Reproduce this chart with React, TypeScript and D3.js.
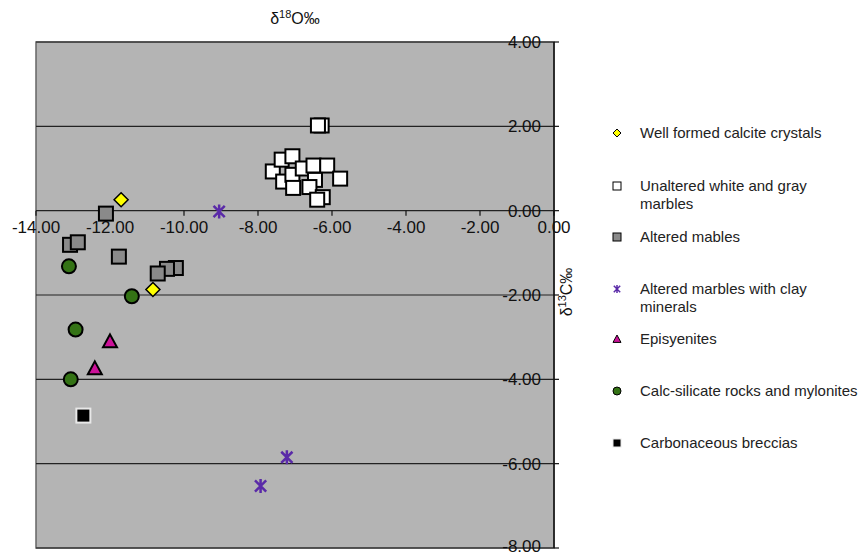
import React from "react";
import * as d3 from "d3";

const xTicks = [-14, -12, -10, -8, -6, -4, -2, 0];
const yTicks = [4, 2, 0, -2, -4, -6, -8];

// [d18O, d13C]
const calcite = [[-11.7, 0.26], [-10.84, -1.87]];
const unaltered = [
  [-6.28, 2.02], [-6.38, 2.02], [-7.6, 0.93], [-7.36, 1.21], [-7.07, 1.29],
  [-7.32, 0.69], [-7.07, 0.85], [-6.79, 1.0], [-6.5, 1.07], [-6.13, 1.07],
  [-5.78, 0.76], [-6.46, 0.73], [-7.05, 0.54], [-6.61, 0.56], [-6.25, 0.32],
  [-6.4, 0.26],
];
const altered = [
  [-12.11, -0.07], [-13.08, -0.81], [-12.87, -0.75], [-11.76, -1.09],
  [-10.22, -1.36], [-10.46, -1.38], [-10.71, -1.49],
];
const clay = [[-9.05, -0.02], [-7.22, -5.85], [-7.93, -6.53]];
const episyenites = [[-12.0, -3.1], [-12.41, -3.74]];
const calcSilicate = [[-13.11, -1.32], [-11.41, -2.03], [-12.93, -2.82], [-13.06, -4.0]];
const breccias = [[-12.72, -4.86]];

const legendLabels = [
  ["Well formed calcite crystals"],
  ["Unaltered white and gray", "marbles"],
  ["Altered mables"],
  ["Altered marbles with clay", "minerals"],
  ["Episyenites"],
  ["Calc-silicate rocks and mylonites"],
  ["Carbonaceous breccias"],
];
const legendY = [133, 186, 237, 289, 339, 391, 443];

const font = "Liberation Sans, Arial, sans-serif";
const fmt = (v: number) => d3.format(".2f")(v).replace("−", "-");

function Marker({ kind, x, y, s }: { kind: string; x: number; y: number; s: number }) {
  const h = s / 2;
  if (kind === "diamond")
    return <path d={`M${x},${y - h}L${x + h},${y}L${x},${y + h}L${x - h},${y}Z`} fill="#ffff00" stroke="#000" strokeWidth={s > 10 ? 1.5 : 1} />;
  if (kind === "white")
    return <rect x={x - h} y={y - h} width={s} height={s} fill="#fff" stroke="#000" strokeWidth={s > 10 ? 2 : 1} />;
  if (kind === "gray")
    return <rect x={x - h} y={y - h} width={s} height={s} fill="#8a8a8a" stroke="#000" strokeWidth={s > 10 ? 2 : 1} />;
  if (kind === "star") {
    const d = h * 0.8;
    return <path d={`M${x},${y - h}V${y + h}M${x - d},${y - d}L${x + d},${y + d}M${x - d},${y + d}L${x + d},${y - d}`} stroke="#5a2aa8" strokeWidth={s > 10 ? 2.5 : 1.5} fill="none" />;
  }
  if (kind === "tri")
    return <path d={`M${x},${y - h}L${x + h},${y + h * 0.85}L${x - h},${y + h * 0.85}Z`} fill="#cc1199" stroke="#000" strokeWidth={s > 10 ? 2 : 1} />;
  if (kind === "circle")
    return <circle cx={x} cy={y} r={h} fill="#347315" stroke="#000" strokeWidth={s > 10 ? 2 : 1} />;
  return <rect x={x - h} y={y - h} width={s} height={s} fill="#000" stroke="#e8e8e8" strokeWidth={s > 10 ? 2 : 1} />;
}

const series = [
  { kind: "diamond", data: calcite },
  { kind: "white", data: unaltered },
  { kind: "gray", data: altered },
  { kind: "star", data: clay },
  { kind: "tri", data: episyenites },
  { kind: "circle", data: calcSilicate },
  { kind: "black", data: breccias },
];

export default function App() {
  const x = d3.scaleLinear().domain([-14, 0]).range([36, 554]);
  const y = d3.scaleLinear().domain([-8, 4]).range([548, 42]);
  const [x0, x1] = x.range();
  const [y1, y0] = y.range();

  return (
    <svg width={860} height={555} style={{ position: "absolute", left: 0, top: 0, background: "#fff" }} fontFamily={font}>
      <rect x={x0} y={y0} width={x1 - x0} height={y1 - y0} fill="#b4b4b4" stroke="#666" strokeWidth={1.5} />
      {yTicks.map(t => (
        <line key={"g" + t} x1={x0} x2={x1} y1={y(t)} y2={y(t)} stroke="#222" strokeWidth={1.2} />
      ))}
      {/* y axis at x = 0 */}
      <line x1={x(0)} x2={x(0)} y1={y0} y2={y1} stroke="#111" strokeWidth={1.5} />
      {yTicks.map(t => (
        <line key={"yt" + t} x1={x(0)} x2={x(0) + 5} y1={y(t)} y2={y(t)} stroke="#111" strokeWidth={1.2} />
      ))}
      {/* x axis at y = 0 */}
      {xTicks.map(t => (
        <line key={"xt" + t} x1={x(t)} x2={x(t)} y1={y(0)} y2={y(0) + 5} stroke="#111" strokeWidth={1.2} />
      ))}
      {xTicks.map(t => (
        <text key={"xl" + t} x={x(t)} y={y(0) + 22} textAnchor="middle" fontSize={17} fill="#111">
          {fmt(t)}
        </text>
      ))}
      {yTicks.map(t => (
        <text key={"yl" + t} x={x(0) - 13} y={Math.min(y(t) + 6, 552)} textAnchor="end" fontSize={17} fill="#111">
          {fmt(t)}
        </text>
      ))}
      {series.map(s =>
        s.data.map((d, i) => <Marker key={s.kind + i} kind={s.kind} x={x(d[0])} y={y(d[1])} s={14} />)
      )}
      <text x={295} y={24} textAnchor="middle" fontSize={16} fill="#111">
        δ<tspan fontSize={11} dy={-6}>18</tspan><tspan dy={6}>O‰</tspan>
      </text>
      <text transform="translate(572,292) rotate(-90)" textAnchor="middle" fontSize={16} fill="#111">
        δ<tspan fontSize={11} dy={-6}>13</tspan><tspan dy={6}>C‰</tspan>
      </text>
      {series.map((s, i) => (
        <g key={"lg" + i}>
          <Marker kind={s.kind} x={617} y={legendY[i]} s={8} />
          {legendLabels[i].map((l, j) => (
            <text key={j} x={640} y={legendY[i] + 5 + j * 18} fontSize={15} fill="#222">{l}</text>
          ))}
        </g>
      ))}
    </svg>
  );
}
